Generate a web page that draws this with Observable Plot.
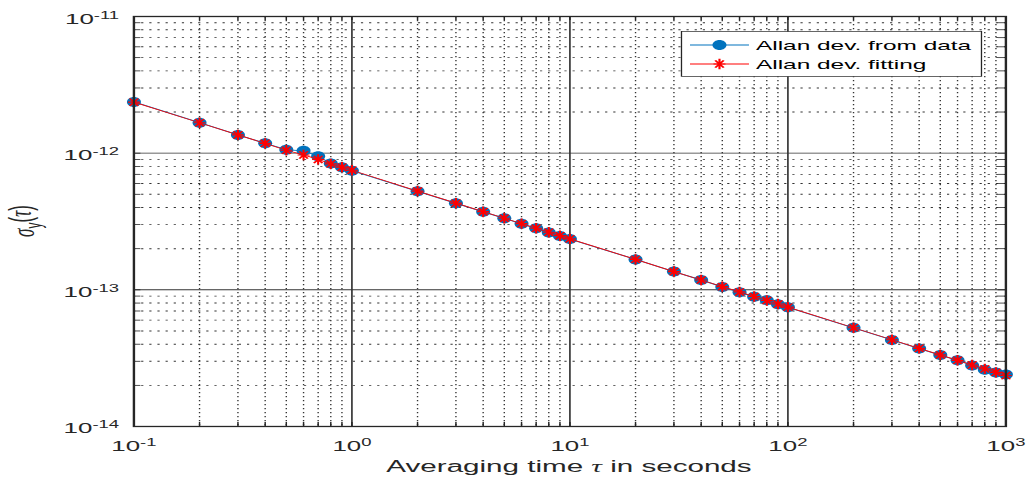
<!DOCTYPE html>
<html><head><meta charset="utf-8">
<script src="https://cdn.jsdelivr.net/npm/d3@7"></script>
<script src="https://cdn.jsdelivr.net/npm/@observablehq/plot@0.6"></script>
<style>
html,body{margin:0;padding:0;background:#fff;overflow:hidden;}
#wrap{transform-origin:0 0;}
</style></head>
<body><div id="wrap"></div>
<script>
// ---- data ----
const tau = [0.1,0.2,0.3,0.4,0.5,0.6,0.7,0.8,0.9,1,2,3,4,5,6,7,8,9,10,20,30,40,50,60,70,80,90,100,200,300,400,500,600,700,800,900,1000];
const allanData = [2.37e-12,1.67e-12,1.36e-12,1.18e-12,1.06e-12,1.04e-12,9.5e-13,8.4e-13,7.9e-13,7.45e-13,
  5.26e-13,4.30e-13,3.72e-13,3.34e-13,3.04e-13,2.82e-13,2.63e-13,2.48e-13,2.35e-13,
  1.67e-13,1.36e-13,1.18e-13,1.05e-13,9.6e-14,8.9e-14,8.4e-14,7.85e-14,7.45e-14,
  5.27e-14,4.30e-14,3.72e-14,3.33e-14,3.05e-14,2.80e-14,2.60e-14,2.48e-14,2.40e-14];
const allanFit = [2.36e-12,1.67e-12,1.36e-12,1.18e-12,1.05e-12,9.7e-13,9.0e-13,8.35e-13,7.9e-13,7.5e-13,
  5.28e-13,4.31e-13,3.73e-13,3.34e-13,3.05e-13,2.82e-13,2.64e-13,2.49e-13,2.36e-13,
  1.67e-13,1.36e-13,1.18e-13,1.055e-13,9.65e-14,8.93e-14,8.35e-14,7.87e-14,7.47e-14,
  5.28e-14,4.31e-14,3.73e-14,3.34e-14,3.05e-14,2.82e-14,2.64e-14,2.49e-14,2.36e-14];
const xTicks = [0.1,1,10,100,1000];
const xTickExp = ["-1","0","1","2","3"];
const yTicks = [1e-14,1e-13,1e-12,1e-11];
const yTickExp = ["-14","-13","-12","-11"];
const seriesNames = ["Allan dev. from data","Allan dev. fitting"];
const xTitleParts = ["Averaging time ","τ"," in seconds"];
const colors = ["#0072BD","#FF0000"];

// ---- layout ----
const S = 1.85;              // horizontal stretch of the reference picture
const W = 1032 / S, H = 486;
const mL = 133 / S, mR = 27 / S, mT = 16, mB = 486 - 426;
const plotW = W - mL - mR, plotH = H - mT - mB;
document.getElementById("wrap").style.transform = `scaleX(${S})`;
document.getElementById("wrap").style.width = W + "px";

const minorOf = (lo, hi) => { const out = []; for (let e = lo; e < hi; e++) for (let k = 2; k <= 9; k++) out.push(+(k * Math.pow(10, e)).toPrecision(3)); return out; };
const xMinor = minorOf(-1, 3);
const yMinor = minorOf(-14, -11);
const xAll = xTicks.concat(xMinor), yAll = yTicks.concat(yMinor);

const dataRows = tau.map((t, i) => ({tau: t, v: allanData[i]}));
const fitRows = tau.map((t, i) => ({tau: t, v: allanFit[i]}));

// symbols compensating the stretch
const ellipseSym = kx => ({draw(ctx, size) {
  const r = Math.sqrt(size / Math.PI), rx = r * kx, ry = r, k = 0.5523;
  ctx.moveTo(rx, 0);
  ctx.bezierCurveTo(rx, ry * k, rx * k, ry, 0, ry);
  ctx.bezierCurveTo(-rx * k, ry, -rx, ry * k, -rx, 0);
  ctx.bezierCurveTo(-rx, -ry * k, -rx * k, -ry, 0, -ry);
  ctx.bezierCurveTo(rx * k, -ry, rx, -ry * k, rx, 0);
  ctx.closePath();
}});
const starSym = kx => ({draw(ctx, size) {
  const r = Math.sqrt(size / Math.PI), d = r * Math.SQRT1_2;
  ctx.moveTo(-r * kx, 0); ctx.lineTo(r * kx, 0);
  ctx.moveTo(0, -r); ctx.lineTo(0, r);
  ctx.moveTo(-d * kx, -d); ctx.lineTo(d * kx, d);
  ctx.moveTo(-d * kx, d); ctx.lineTo(d * kx, -d);
}});
const dotR = 5, starR = 5.2;
const dotSym = ellipseSym(7 / S / dotR);
const astSym = starSym(6 / S / starR);

const gridCol = "#333";
const chart = Plot.plot({
  width: W, height: H,
  marginLeft: mL, marginRight: mR, marginTop: mT, marginBottom: mB,
  x: {type: "log", domain: [0.1, 1000], axis: null},
  y: {type: "log", domain: [1e-14, 1e-11], axis: null},
  style: {fontFamily: "'Liberation Sans', Arial, Helvetica, sans-serif", fontSize: "14px", color: "#262626", background: "#fff"},
  marks: [
    Plot.ruleX(xMinor, {stroke: gridCol, strokeWidth: 0.75, strokeDasharray: "1.3,2.7"}),
    Plot.ruleY(yMinor, {stroke: gridCol, strokeWidth: 0.9, strokeDasharray: "1.2,3.2"}),
    Plot.ruleX(xTicks.slice(1, -1), {stroke: "#333", strokeWidth: 0.9}),
    Plot.ruleY(yTicks.slice(1, -1), {stroke: "#333", strokeWidth: 0.9}),
    Plot.ruleX(xAll, {stroke: "#262626", strokeWidth: 0.8, insetTop: plotH - 4}),
    Plot.ruleX(xAll, {stroke: "#262626", strokeWidth: 0.8, insetBottom: plotH - 4}),
    Plot.ruleY(yAll, {stroke: "#262626", strokeWidth: 0.8, insetRight: plotW - 4}),
    Plot.ruleY(yAll, {stroke: "#262626", strokeWidth: 0.8, insetLeft: plotW - 4}),
    Plot.line(dataRows, {x: "tau", y: "v", stroke: colors[0], strokeWidth: 0.9}),
    Plot.dot(dataRows, {x: "tau", y: "v", r: dotR, symbol: dotSym, fill: colors[0], stroke: "none"}),
    Plot.line(fitRows, {x: "tau", y: "v", stroke: colors[1], strokeWidth: 0.8}),
    Plot.dot(fitRows, {x: "tau", y: "v", r: starR, symbol: astSym, fill: "none", stroke: colors[1], strokeWidth: 1.15}),
    Plot.frame({stroke: "#262626", strokeWidth: 1.3}),
    Plot.axisX(xTicks, {tickSize: 0, tickPadding: 0, label: null, tickFormat: d => "10^" + xTickExp[xTicks.indexOf(d)]}),
    Plot.axisY(yTicks, {tickSize: 0, tickPadding: 8, label: null, tickFormat: d => "10^" + yTickExp[yTicks.indexOf(d)]})
  ]
});
document.getElementById("wrap").appendChild(chart);

const svg = d3.select(chart);
function superscript(sel, yAttr) {
  sel.each(function () {
    const parts = this.textContent.split("^");
    const t = d3.select(this);
    t.text(null).attr("y", yAttr);
    t.append("tspan").text(parts[0]);
    t.append("tspan").attr("dy", "-0.5em").attr("font-size", "10px").text(parts[1]);
  });
}
superscript(svg.selectAll('g[aria-label="x-axis tick label"] text'), 25);
superscript(svg.selectAll('g[aria-label="y-axis tick label"] text'), 7);

// axis titles
const xt = svg.append("text").attr("x", mL + plotW / 2).attr("y", 472)
  .attr("text-anchor", "middle").attr("font-size", "16px").attr("fill", "#262626");
xt.append("tspan").text(xTitleParts[0]);
xt.append("tspan").attr("font-family", "'Liberation Serif', 'DejaVu Serif', serif").attr("font-style", "italic").text(xTitleParts[1]);
xt.append("tspan").text(xTitleParts[2]);

const yt = svg.append("text").attr("transform", `translate(18.5,${mT + plotH / 2}) rotate(-90)`)
  .attr("text-anchor", "middle").attr("font-size", "17px").attr("fill", "#262626");
yt.append("tspan").attr("font-family", "'Liberation Serif', 'DejaVu Serif', serif").attr("font-style", "italic").text("σ");
yt.append("tspan").attr("dy", "0.3em").attr("font-size", "12px").text("y");
yt.append("tspan").attr("dy", "-0.3em").attr("font-size", "17px").text("(");
yt.append("tspan").attr("font-family", "'Liberation Serif', 'DejaVu Serif', serif").attr("font-style", "italic").text("τ");
yt.append("tspan").text(")");

// legend
const lg = svg.append("g").attr("text-anchor", "start");
lg.append("rect").attr("x", 681.5 / S).attr("y", 31.5).attr("width", 300 / S).attr("height", 45)
  .attr("fill", "#fff").attr("stroke", "#262626").attr("stroke-width", 0.7);
const rowsY = [45, 64];
const syms = [dotSym, astSym];
seriesNames.forEach((name, i) => {
  const y = rowsY[i];
  lg.append("line").attr("x1", 690 / S).attr("x2", 749 / S).attr("y1", y).attr("y2", y)
    .attr("stroke", colors[i]).attr("stroke-width", 0.9);
  lg.append("path").attr("transform", `translate(${719.5 / S},${y})`)
    .attr("d", d3.symbol(syms[i], Math.PI * (i ? starR : dotR) ** 2)())
    .attr("fill", i ? "none" : colors[0]).attr("stroke", i ? colors[1] : "none").attr("stroke-width", 1.15);
  lg.append("text").attr("x", 756 / S).attr("y", y + 5).attr("text-anchor", "start")
    .attr("font-size", "13.2px").attr("fill", "#000").text(name);
});
</script>
</body></html>
